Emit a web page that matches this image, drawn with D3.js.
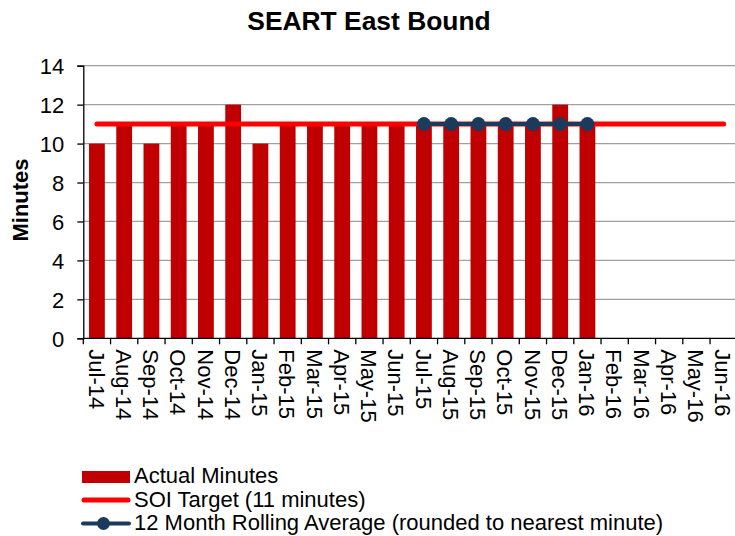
<!DOCTYPE html>
<html><head><meta charset="utf-8">
<script src="https://cdn.jsdelivr.net/npm/d3@7"></script>
<style>body{margin:0;background:#fff}svg{display:block;font-family:Arial,"Liberation Sans",sans-serif}</style>
</head><body><svg id="c" width="735" height="536"></svg>
<script>
const categories = ["Jul-14","Aug-14","Sep-14","Oct-14","Nov-14","Dec-14","Jan-15","Feb-15","Mar-15","Apr-15","May-15","Jun-15","Jul-15","Aug-15","Sep-15","Oct-15","Nov-15","Dec-15","Jan-16","Feb-16","Mar-16","Apr-16","May-16","Jun-16"];
const actualMinutes = [10,11,10,11,11,12,10,11,11,11,11,11,11,11,11,11,11,12,11,null,null,null,null,null];
const soiTarget = categories.map(() => 11);
const rollingAvg = [null,null,null,null,null,null,null,null,null,null,null,null,11,11,11,11,11,11,11,null,null,null,null,null];
const yTicks = [0,2,4,6,8,10,12,14];

const svg = d3.select("#c");
const L = 83.3, R = 737.3, T = 65.7, B = 338.3;
const x = d3.scaleBand().domain(categories).range([L, R]).paddingInner(0.42).paddingOuter(0.21);
const xb = d3.scaleBand().domain(categories).range([L, R]);
const y = d3.scaleLinear().domain([0,14]).range([B, T]);

// gridlines
svg.append("g").selectAll("line").data(yTicks.filter(d=>d>0)).join("line")
  .attr("x1", L).attr("x2", R).attr("y1", d=>y(d)).attr("y2", d=>y(d))
  .attr("stroke", "#a0a0a0").attr("stroke-width", 1.2);

// bars
svg.append("g").selectAll("rect").data(categories.map((c,i)=>({c,v:actualMinutes[i]})).filter(d=>d.v!=null)).join("rect")
  .attr("x", d=>x(d.c)).attr("width", x.bandwidth())
  .attr("y", d=>y(d.v)).attr("height", d=>B - y(d.v)).attr("fill", "#c00000");

// axes
const yAxis = svg.append("g").attr("transform", `translate(${L},0)`)
  .call(d3.axisLeft(y).tickValues(yTicks).tickSize(6).tickPadding(13));
yAxis.select(".domain").attr("stroke", "#000").attr("stroke-width", 1.3);
yAxis.selectAll(".tick line").attr("stroke", "#000").attr("stroke-width", 1.3);
yAxis.selectAll("text").attr("font-size", 22).attr("fill", "#000").attr("dy", "0.36em").attr("font-family", "Arial, 'Liberation Sans', sans-serif");

const xAxisG = svg.append("g").attr("transform", `translate(0,${B})`);
xAxisG.append("line").attr("x1", L).attr("x2", R).attr("stroke", "#000").attr("stroke-width", 1.3);
xAxisG.selectAll("line.tk").data(d3.range(categories.length+1)).join("line").attr("class","tk")
  .attr("x1", i=>L + i*xb.step()).attr("x2", i=>L + i*xb.step()).attr("y1", 0).attr("y2", 6)
  .attr("stroke", "#000").attr("stroke-width", 1.3);
xAxisG.selectAll("text").data(categories).join("text")
  .attr("transform", d=>`translate(${xb(d)+xb.bandwidth()/2 - 0.5},11) rotate(90)`)
  .attr("dy", "0.35em").attr("font-size", 22).attr("fill", "#000").text(d=>d);

// SOI target line
const lineGen = d3.line().defined(d=>d.v!=null).x(d=>xb(d.c)+xb.bandwidth()/2).y(d=>y(d.v));
svg.append("path").datum(categories.map((c,i)=>({c,v:soiTarget[i]})))
  .attr("d", lineGen).attr("fill","none").attr("stroke","#ff0000").attr("stroke-width",5).attr("stroke-linecap","round");

// rolling average
const raData = categories.map((c,i)=>({c,v:rollingAvg[i]}));
svg.append("path").datum(raData).attr("d", lineGen).attr("fill","none").attr("stroke","#1b3a5c").attr("stroke-width",4);
svg.append("g").selectAll("circle").data(raData.filter(d=>d.v!=null)).join("circle")
  .attr("cx", d=>xb(d.c)+xb.bandwidth()/2).attr("cy", d=>y(d.v)).attr("r", 7).attr("fill", "#1b3a5c");

// title
svg.append("text").attr("x", 369).attr("y", 30).attr("text-anchor","middle")
  .attr("font-size", 26.4).attr("font-weight","bold").text("SEART East Bound");
// y title
svg.append("text").attr("transform","translate(28,200) rotate(-90)").attr("text-anchor","middle")
  .attr("font-size", 22).attr("font-weight","bold").text("Minutes");

// legend
const lg = svg.append("g");
lg.append("rect").attr("x",82).attr("y",471).attr("width",48).attr("height",12).attr("fill","#c00000");
lg.append("line").attr("x1",84).attr("x2",128).attr("y1",500).attr("y2",500).attr("stroke","#ff0000").attr("stroke-width",5).attr("stroke-linecap","round");
lg.append("line").attr("x1",83).attr("x2",129).attr("y1",523.5).attr("y2",523.5).attr("stroke","#1b3a5c").attr("stroke-width",4).attr("stroke-linecap","round");
lg.append("circle").attr("cx",103.5).attr("cy",523.5).attr("r",6.5).attr("fill","#1b3a5c");
const legendLabels = ["Actual Minutes","SOI Target (11 minutes)","12 Month Rolling Average (rounded to nearest minute)"];
lg.selectAll("text").data(legendLabels).join("text").attr("x",134).attr("y",(d,i)=>483+i*23.5)
  .attr("font-size",22).attr("fill","#000").text(d=>d);
</script></body></html>
